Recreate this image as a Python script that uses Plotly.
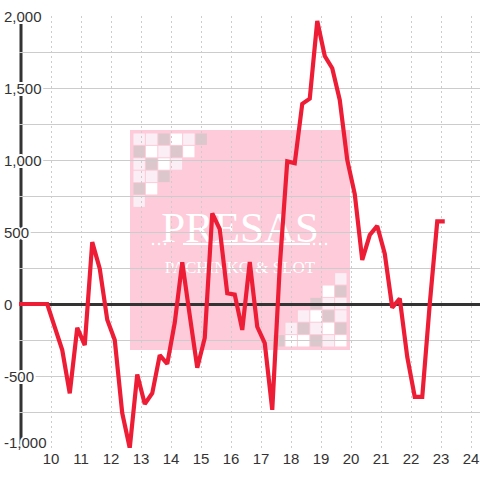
import plotly.graph_objects as go

# ---------------- data ----------------
hours = [8.875, 9.125, 9.375, 9.625, 9.875, 10.125, 10.375, 10.625, 10.875, 11.125,
         11.375, 11.625, 11.875, 12.125, 12.375, 12.625, 12.875, 13.125, 13.375, 13.625,
         13.875, 14.125, 14.375, 14.625, 14.875, 15.125, 15.375, 15.625, 15.875, 16.125,
         16.375, 16.625, 16.875, 17.125, 17.375, 17.625, 17.875, 18.125, 18.375, 18.625,
         18.875, 19.125, 19.375, 19.625, 19.875, 20.125, 20.375, 20.625, 20.875, 21.125,
         21.375, 21.625, 21.875, 22.125, 22.375, 22.625, 22.875, 23.125]
profit = [0, 0, 0, 0, 0, -160, -320, -620, -165, -285,
          430, 245, -110, -250, -758, -1000, -490, -694, -620, -355,
          -415, -130, 290, -80, -442, -236, 630, 520, 75, 65,
          -180, 292, -158, -272, -735, 260, 990, 978, 1390, 1426,
          1965, 1722, 1637, 1417, 1000, 764, 306, 479, 542, 350,
          -25, 38, -368, -645, -645, 0, 574, 574]

x_tick_vals = [10, 11, 12, 13, 14, 15, 16, 17, 18, 19, 20, 21, 22, 23, 24]
x_tick_labels = ["10", "11", "12", "13", "14", "15", "16", "17", "18", "19",
                 "20", "21", "22", "23", "24"]
y_tick_vals = [-1000, -500, 0, 500, 1000, 1500, 2000]
y_tick_labels = ["-1,000", "-500", "0", "500", "1,000", "1,500", "2,000"]

watermark_title = "PRESAS"
watermark_sub = "PACHINKO & SLOT"
# checker patterns: p = pale pink, w = white, g = grey
tl_pattern = ["ppgwpg", "gwpgw", "pgwp", "ppg", "gw", "p"]
br_pattern = ["wpgwwg", "gwpgp", "pgwp", "ppg", "gw", "p"]

# ---------------- layout geometry ----------------
W_PX, H_PX = 480, 480
L, R, T, B = 19, 0, 16, 32
PW = W_PX - L - R
PH = H_PX - T - B

def px_x(p):
    return (p - L) / PW

def px_y(p):
    return (T + PH - p) / PH

RED = "#EE1D36"
AXIS = "#333333"
GRID = "#cccccc"
PINK = "#FDCBD9"
CELL = {"p": "#FCEEF5", "w": "#FFFFFF", "g": "#DCC7CC"}

fig = go.Figure()
fig.add_trace(go.Scatter(
    x=hours, y=profit, mode="lines",
    line=dict(color=RED, width=4.2),
    hoverinfo="skip", showlegend=False,
))

shapes = []
# watermark background
shapes.append(dict(type="rect", xref="paper", yref="paper", layer="below",
                   x0=px_x(130), x1=px_x(350), y0=px_y(350), y1=px_y(130),
                   fillcolor=PINK, line=dict(width=0)))
pitch, size = 12.4, 11.4
for r, row in enumerate(tl_pattern):
    for c, k in enumerate(row):
        x0 = 133.5 + c * pitch
        y0 = 133.5 + r * pitch
        shapes.append(dict(type="rect", xref="paper", yref="paper", layer="below",
                           x0=px_x(x0), x1=px_x(x0 + size), y0=px_y(y0 + size), y1=px_y(y0),
                           fillcolor=CELL[k], line=dict(width=0)))
for r, row in enumerate(br_pattern):
    for c, k in enumerate(row):
        x1 = 346.5 - c * pitch
        y1 = 346.5 - r * pitch
        shapes.append(dict(type="rect", xref="paper", yref="paper", layer="below",
                           x0=px_x(x1 - size), x1=px_x(x1), y0=px_y(y1), y1=px_y(y1 - size),
                           fillcolor=CELL[k], line=dict(width=0)))
# watermark texts (as shape labels so they stay beneath the data line)
shapes.append(dict(type="rect", xref="paper", yref="paper", layer="below",
                   x0=px_x(140), x1=px_x(340), y0=px_y(240), y1=px_y(205),
                   line=dict(width=0), fillcolor="rgba(0,0,0,0)",
                   label=dict(text=watermark_title, textposition="middle center",
                              font=dict(family="Liberation Serif, serif", size=43, color="white"))))
shapes.append(dict(type="rect", xref="paper", yref="paper", layer="below",
                   x0=px_x(140), x1=px_x(340), y0=px_y(275), y1=px_y(255),
                   line=dict(width=0), fillcolor="rgba(0,0,0,0)",
                   label=dict(text=watermark_sub, textposition="middle center",
                              font=dict(family="Liberation Serif, serif", size=17, color="white"))))
# ornament line with dots
shapes.append(dict(type="line", xref="paper", yref="paper", layer="below",
                   x0=px_x(183), x1=px_x(310), y0=px_y(244), y1=px_y(244),
                   line=dict(color="white", width=2)))
for cx in [153, 159, 165, 314, 320, 326]:
    shapes.append(dict(type="circle", xref="paper", yref="paper", layer="below",
                       x0=px_x(cx - 1.3), x1=px_x(cx + 1.3), y0=px_y(244 + 1.3), y1=px_y(244 - 1.3),
                       fillcolor="white", line=dict(width=0)))
# y axis line
shapes.append(dict(type="line", xref="paper", yref="y", layer="between",
                   x0=px_x(21), x1=px_x(21), y0=y_tick_vals[0], y1=y_tick_vals[-1],
                   line=dict(color=AXIS, width=3)))

halo = ("white 2px 0px 0px, white -2px 0px 0px, white 0px 2px 0px, white 0px -2px 0px, "
        "white 1.5px 1.5px 0px, white -1.5px -1.5px 0px, white 1.5px -1.5px 0px, white -1.5px 1.5px 0px")
annotations = []
for v, t in zip(y_tick_vals, y_tick_labels):
    annotations.append(dict(
        x=px_x(3), xref="paper", y=v, yref="y", xanchor="left", yanchor="middle",
        text=t, showarrow=False, borderpad=0,
        yshift=6 if v == y_tick_vals[0] else 0,
        font=dict(family="Liberation Sans, Arial, sans-serif", size=15, color=AXIS, shadow=halo),
    ))

fig.update_layout(
    width=W_PX, height=H_PX,
    margin=dict(l=L, r=R, t=T, b=B, autoexpand=False),
    paper_bgcolor="white", plot_bgcolor="white",
    showlegend=False,
    shapes=shapes,
    annotations=annotations,
    xaxis=dict(
        range=[10 + (L - 51) / 30, 10 + (W_PX - R - 51) / 30],
        tickvals=x_tick_vals, ticktext=x_tick_labels,
        tickfont=dict(family="Liberation Sans, Arial, sans-serif", size=15, color=AXIS),
        showgrid=True, gridcolor=GRID, gridwidth=1, griddash="2px,3px",
        zeroline=False, showline=False, ticks="", fixedrange=True, automargin=False,
    ),
    yaxis=dict(
        range=[-1000, 2000], dtick=250, tick0=0,
        showticklabels=False, ticks="",
        showgrid=True, gridcolor=GRID, gridwidth=1,
        zeroline=True, zerolinecolor=AXIS, zerolinewidth=3,
        showline=False, fixedrange=True, automargin=False,
    ),
)

fig.write_html("out.html", config={"displayModeBar": False},
               post_script="document.body.style.margin='0';document.body.style.overflow='hidden';")
